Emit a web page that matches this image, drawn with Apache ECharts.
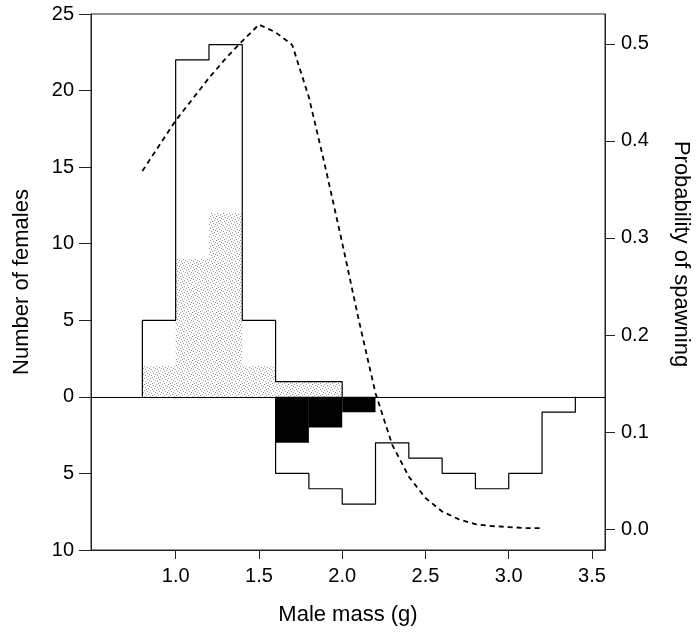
<!DOCTYPE html>
<html>
<head>
<meta charset="utf-8">
<script src="https://cdn.jsdelivr.net/npm/echarts@6/dist/echarts.min.js"></script>
<style>
  html, body { margin: 0; padding: 0; background: #fff; }
  #main { width: 700px; height: 637px; }
</style>
</head>
<body>
<div id="main"></div>
<script>
// histogram bins are 0.2 g wide, left edges given
const binWidth = 0.2;
const upperBins = [0.8, 1.0, 1.2, 1.4, 1.6, 1.8];
const upperCounts = [5, 22, 23, 5, 1, 1];
const stippleCounts = [2, 9, 12, 2, 1, 1];
const lowerBins = [1.6, 1.8, 2.0, 2.2, 2.4, 2.6, 2.8, 3.0, 3.2];
const lowerCounts = [5, 6, 7, 3, 4, 5, 6, 5, 1];
const blackBins = [1.6, 1.8, 2.0];
const blackCounts = [3, 2, 1];

// probability of spawning curve
const curveMass = [0.8, 0.9, 1.0, 1.1, 1.2, 1.3, 1.4, 1.5, 1.6, 1.7, 1.8, 1.9, 2.0,
  2.1, 2.2, 2.3, 2.4, 2.5, 2.6, 2.7, 2.8, 2.9, 3.0, 3.1, 3.2];
const curveProb = [0.369, 0.395, 0.421, 0.443, 0.465, 0.485, 0.503, 0.520, 0.512, 0.499,
  0.445, 0.372, 0.295, 0.215, 0.140, 0.087, 0.054, 0.032, 0.018, 0.010, 0.005, 0.003,
  0.002, 0.001, 0.001];

const xTicks = [1.0, 1.5, 2.0, 2.5, 3.0, 3.5];
const probTicks = [0, 0.1, 0.2, 0.3, 0.4, 0.5];

const font = "'Liberation Sans', Arial, Helvetica, sans-serif";

// outline of a histogram as step points
function stepPoints(lefts, counts, sign) {
  let pts = [[lefts[0], 0]];
  for (let i = 0; i < lefts.length; i++) {
    pts.push([lefts[i], sign * counts[i]]);
  }
  pts.push([lefts[lefts.length - 1] + binWidth, 0]);
  return pts;
}

function barData(lefts, counts, sign) {
  return lefts.map((l, i) => [l, sign * counts[i]]);
}

// stipple texture
let tex = document.createElement('canvas');
tex.width = 6; tex.height = 6;
let tctx = tex.getContext('2d');
tctx.fillStyle = 'rgba(110,110,110,0.7)';
[[0, 0], [3, 1], [1, 3], [4, 4], [2, 5], [5, 2]].forEach(p => tctx.fillRect(p[0], p[1], 1, 1));
const stipple = { image: tex, repeat: 'repeat' };

function rectItem(fill) {
  return function (params, api) {
    let x = api.value(0), v = api.value(1);
    let p0 = api.coord([x, 0]);
    let p1 = api.coord([x + binWidth, v]);
    return {
      type: 'rect',
      shape: {
        x: Math.min(p0[0], p1[0]), y: Math.min(p0[1], p1[1]),
        width: Math.abs(p1[0] - p0[0]), height: Math.abs(p1[1] - p0[1])
      },
      style: { fill: fill, stroke: null }
    };
  };
}

let chart = echarts.init(document.getElementById('main'));

chart.setOption({
  animation: false,
  backgroundColor: '#fff',
  textStyle: { fontFamily: font },
  grid: {
    left: 91, right: 93, top: 14, bottom: 87,
    show: true, borderColor: '#222', borderWidth: 1
  },
  xAxis: {
    type: 'value',
    min: 0.4916, max: 3.578,
    name: 'Male mass (g)',
    nameLocation: 'middle',
    nameGap: 54,
    nameTextStyle: { fontSize: 22, color: '#000', fontFamily: font },
    axisLine: { show: true, onZero: false, lineStyle: { color: '#222', width: 1 } },
    axisTick: { show: true, length: 9, customValues: xTicks, lineStyle: { color: '#222' } },
    axisLabel: {
      customValues: xTicks, margin: 16, fontSize: 20, color: '#000', fontFamily: font,
      formatter: v => v.toFixed(1)
    },
    splitLine: { show: false }
  },
  yAxis: [{
    type: 'value',
    min: -10, max: 25, interval: 5,
    position: 'left',
    name: 'Number of females',
    nameLocation: 'middle',
    nameGap: 58,
    nameTextStyle: { fontSize: 22, color: '#000', fontFamily: font },
    axisLine: { show: true, onZero: false, lineStyle: { color: '#222', width: 1 } },
    axisTick: { show: true, length: 12, lineStyle: { color: '#222' } },
    axisLabel: {
      margin: 17, fontSize: 20, color: '#000', fontFamily: font,
      formatter: v => String(Math.abs(v))
    },
    splitLine: { show: false }
  }, {
    type: 'value',
    min: -0.02165, max: 0.5309,
    position: 'right',
    name: 'Probability of spawning',
    nameLocation: 'middle',
    nameRotate: -90,
    nameGap: 65,
    nameTextStyle: { fontSize: 22, color: '#000', fontFamily: font, padding: [0, 56, 0, 0] },
    axisLine: { show: true, onZero: false, lineStyle: { color: '#222', width: 1 } },
    axisTick: { show: true, length: 10, customValues: probTicks, lineStyle: { color: '#222' } },
    axisLabel: {
      customValues: probTicks, margin: 16, fontSize: 20, color: '#000', fontFamily: font,
      formatter: v => v.toFixed(1)
    },
    splitLine: { show: false }
  }],
  series: [
    {
      name: 'stipple',
      type: 'custom',
      renderItem: rectItem(stipple),
      data: barData(upperBins, stippleCounts, 1),
      z: 1,
      silent: true
    },
    {
      name: 'black',
      type: 'custom',
      renderItem: rectItem('#000'),
      data: barData(blackBins, blackCounts, -1),
      z: 1,
      silent: true
    },
    {
      name: 'upper',
      type: 'line',
      step: 'end',
      symbol: 'none',
      data: stepPoints(upperBins, upperCounts, 1),
      lineStyle: { color: '#000', width: 1.2 },
      z: 3,
      markLine: {
        silent: true,
        symbol: 'none',
        label: { show: false },
        lineStyle: { color: '#000', width: 1.2, type: 'solid' },
        data: [{ yAxis: 0 }]
      }
    },
    {
      name: 'lower',
      type: 'line',
      step: 'end',
      symbol: 'none',
      data: stepPoints(lowerBins, lowerCounts, -1),
      lineStyle: { color: '#000', width: 1.2 },
      z: 3
    },
    {
      name: 'probability',
      type: 'line',
      yAxisIndex: 1,
      symbol: 'none',
      data: curveMass.map((m, i) => [m, curveProb[i]]),
      lineStyle: { color: '#000', width: 1.8, type: [5, 4] },
      z: 4
    }
  ]
});
</script>
</body>
</html>
